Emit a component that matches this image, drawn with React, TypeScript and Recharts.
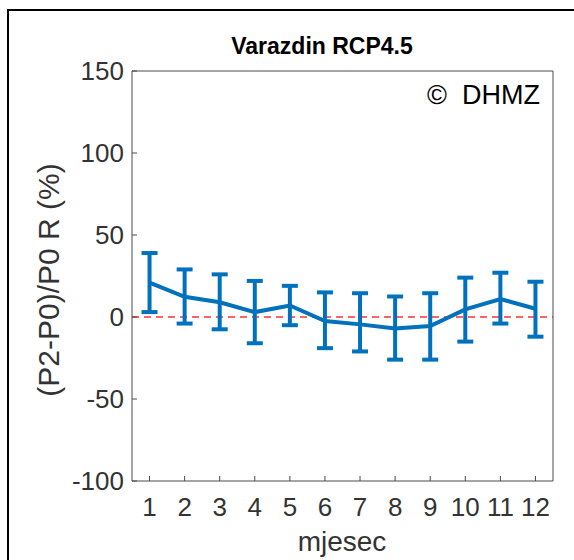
import { LineChart, Line, XAxis, YAxis, ErrorBar, ReferenceLine } from 'recharts';

// monthly change of precipitation, P2 vs P0 (%)
const months = [1, 2, 3, 4, 5, 6, 7, 8, 9, 10, 11, 12];
const meanChange = [21, 12.3, 9, 3, 7, -2.5, -4.5, -7, -5.5, 4.6, 11, 5];
const lowChange = [3, -4, -7.5, -16, -5, -19, -21, -26, -26, -15, -4, -12];
const highChange = [39, 29, 26, 22, 19, 15, 14.5, 12.5, 14.5, 24, 27, 21.5];
const yTicks = [-100, -50, 0, 50, 100, 150];

const BLUE = '#0072BD';
const AXIS = '#4a4a4a';
const FONT = '"Liberation Sans", Arial, Helvetica, sans-serif';

const data = months.map((m, i) => ({
  month: m,
  value: meanChange[i],
  err: [meanChange[i] - lowChange[i], highChange[i] - meanChange[i]],
}));

const tickStyle = { fontSize: 26, fill: '#333', fontFamily: FONT };

export default function App() {
  return (
    <div style={{ position: 'fixed', left: 0, top: 0, width: 574, height: 560, overflow: 'hidden', background: '#fff', fontFamily: FONT }}>
      <div style={{ position: 'absolute', left: 7, top: 9, width: 700, height: 700, border: '2px solid #000' }} />

      <LineChart width={574} height={560} data={data} margin={{ top: 70, right: 20, bottom: 49, left: 72 }} style={{ position: 'absolute', left: 0, top: 0 }}>
        <XAxis
          dataKey="month"
          type="number"
          domain={[0.5, 12.5]}
          ticks={months}
          allowDataOverflow
          height={30}
          stroke={AXIS}
          tickSize={-5}
          tickMargin={22}
          tick={tickStyle}
        />
        <XAxis xAxisId="top" orientation="top" dataKey="month" type="number" domain={[0.5, 12.5]} ticks={months} height={1} stroke={AXIS} tickSize={-5} tick={false} />
        <YAxis
          type="number"
          domain={[-100, 150]}
          ticks={yTicks}
          allowDataOverflow
          width={60}
          stroke={AXIS}
          tickSize={-5}
          tickMargin={13}
          tick={tickStyle}
        />
        <YAxis yAxisId="right" orientation="right" type="number" domain={[-100, 150]} ticks={yTicks} width={1} stroke={AXIS} tickSize={-5} tick={false} />
        <ReferenceLine y={0} stroke="#ff3030" strokeWidth={1.5} strokeDasharray="7 5" />
        <Line dataKey="value" stroke={BLUE} strokeWidth={4} dot={false} isAnimationActive={false}>
          <ErrorBar dataKey="err" direction="y" width={8} stroke={BLUE} strokeWidth={4} isAnimationActive={false} />
        </Line>
      </LineChart>

      <div style={{ position: 'absolute', left: 172, top: 33, width: 300, textAlign: 'center', fontSize: 23, fontWeight: 700, color: '#000' }}>
        Varazdin RCP4.5
      </div>
      <div style={{ position: 'absolute', left: 342 - 100, top: 526, width: 200, textAlign: 'center', fontSize: 28, color: '#333' }}>
        mjesec
      </div>
      <div style={{ position: 'absolute', left: 49 - 170, top: 280 - 17, width: 340, height: 34, lineHeight: '34px', textAlign: 'center', fontSize: 30, color: '#333', transform: 'rotate(-90deg)', whiteSpace: 'nowrap' }}>
        (P2-P0)/P0 R (%)
      </div>
      <div style={{ position: 'absolute', right: 34, top: 80, fontSize: 27, color: '#000', whiteSpace: 'pre' }}>
        ©  DHMZ
      </div>
    </div>
  );
}
